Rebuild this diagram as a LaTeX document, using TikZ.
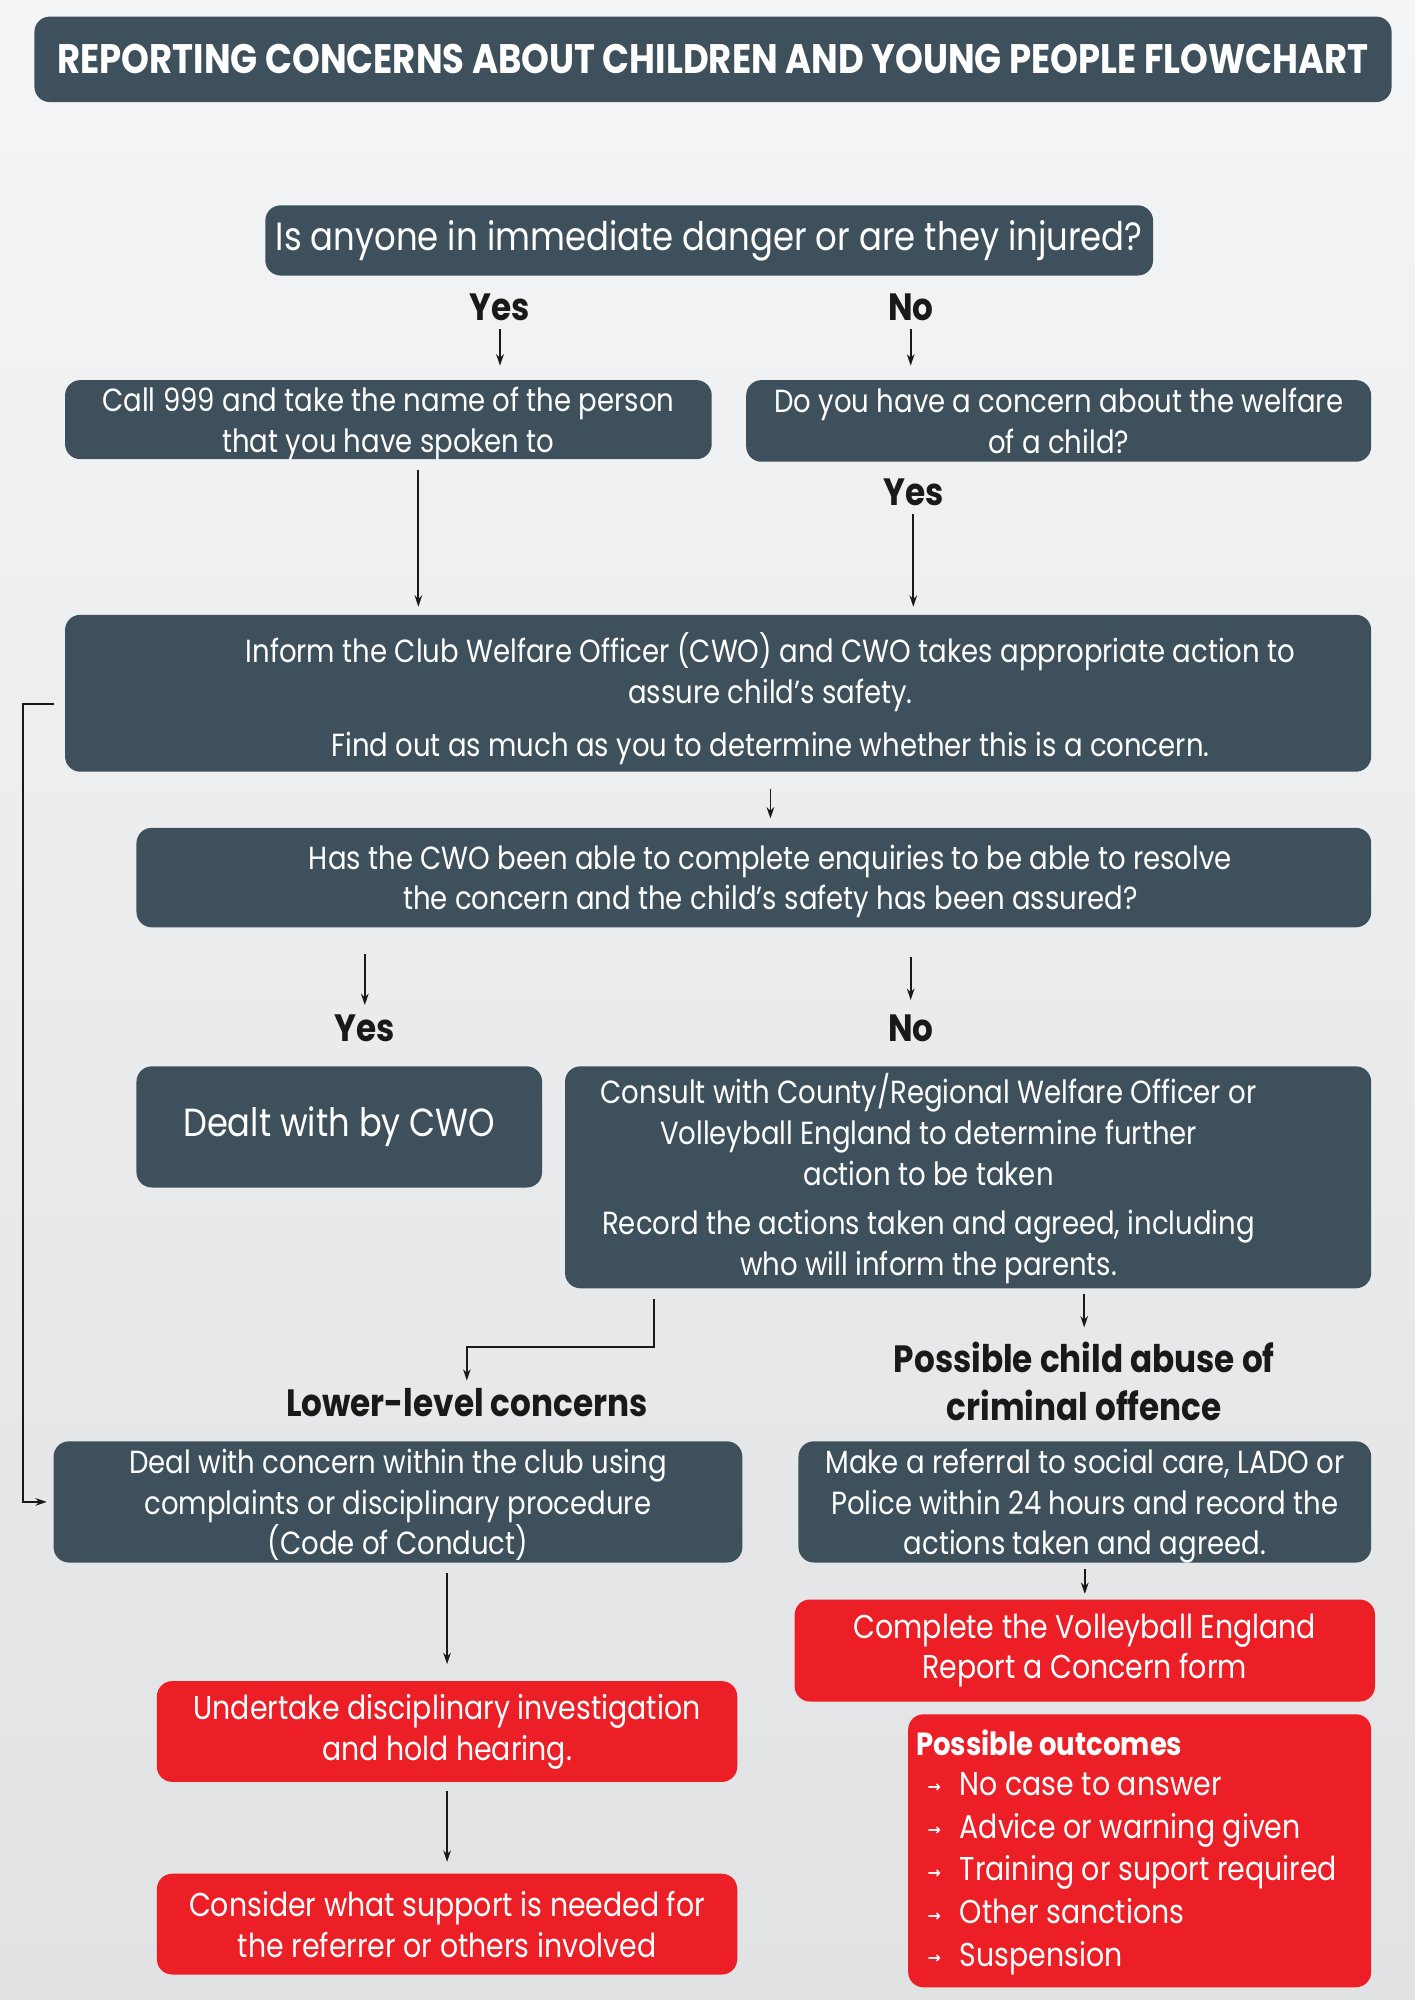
\documentclass[tikz,border=0pt]{standalone}
\usepackage{fontspec}
\setmainfont{Poppins}[FakeStretch=0.86]
\newfontfamily\symfont{DejaVu Sans}
\usetikzlibrary{arrows.meta}

\definecolor{slate}{HTML}{3D505B}
\definecolor{alert}{HTML}{EC1F27}
\definecolor{bgtop}{HTML}{F4F5F6}
\definecolor{bgbot}{HTML}{E1E2E4}
\newlength\px \setlength\px{0.6375pt}

\tikzset{
  panel/.style={fill=slate, rounded corners=12\px, text=white, align=center, inner sep=0pt},
  redpanel/.style={panel, fill=alert},
  txt/.style={font=\fontsize{16}{20.4}\selectfont, text=white, align=center, inner sep=0pt},
  redtxt/.style={font=\fontsize{16.5}{20.4}\selectfont, text=white, align=center, inner sep=0pt},
  answer/.style={font=\bfseries\fontsize{19}{24}\selectfont, text=black!90, align=center, inner sep=2pt},
  item/.style={anchor=base west, inner sep=0pt, text=white, font=\fontsize{16.5}{20}\selectfont},
  arr/.style={-{Stealth[length=5.7pt,width=3.8pt]}, line width=0.9pt, draw=black!90}
}

\begin{document}
\begin{tikzpicture}[x=0.6375pt, y=-0.6375pt]
    % background
    \shade[top color=bgtop, bottom color=bgbot] (0,0) rectangle (1109,1568);
    \useasboundingbox (0,0) rectangle (1109,1568);

    % heading and first question
    \node[panel, minimum width=1064\px, minimum height=67\px, font=\bfseries\fontsize{20.6}{24}\selectfont] (title) at (559,46.5)
        {REPORTING CONCERNS ABOUT CHILDREN AND YOUNG PEOPLE FLOWCHART};
    \node[panel, minimum width=696\px, minimum height=55\px, font=\fontsize{19.7}{24}\selectfont] (danger) at (556,188.5)
        {Is anyone in immediate danger or are they injured?};
    \node[answer] (yes1) at (392,241) {Yes};
    \node[answer] (no1) at (714,241) {No};

    \node[panel, txt, text depth=0pt, minimum width=507\px, minimum height=62\px] (call) at (304.5,329)
        {Call 999 and take the name of the person\\that you have spoken to};
    \node[panel, txt, minimum width=490\px, minimum height=64\px] (welfare) at (830,330)
        {Do you have a concern about the welfare\\of a child?};
    \node[answer] (yes2) at (716,386) {Yes};

    % inform the CWO
    \node[panel, minimum width=1024\px, minimum height=123\px] (inform) at (563,543.5) {};
    \node[txt] (informtext) at (604,548)
        {Inform the Club Welfare Officer (CWO) and CWO takes appropriate action to\\assure child’s safety.\\[6pt]Find out as much as you to determine whether this is a concern.};
    \node[panel, minimum width=968\px, minimum height=78\px] (resolve) at (591,688) {};
    \node[txt] (resolvetext) at (604,691)
        {Has the CWO been able to complete enquiries to be able to resolve\\the concern and the child’s safety has been assured?};
    \node[answer] (yes3) at (286,806) {Yes};
    \node[answer] (no3) at (714,806) {No};

    \node[panel, minimum width=318\px, minimum height=95\px, font=\fontsize{19.6}{24}\selectfont] (cwo) at (266,883.5) {Dealt with by CWO};
    \node[panel, minimum width=632\px, minimum height=174\px] (consult) at (759,923) {};
    \node[txt] (consulttext) at (728,924)
        {Consult with County/Regional Welfare Officer or\\Volleyball England to determine further\\action to be taken\\[4pt]Record the actions taken and agreed, including\\who will inform the parents.};

    % two routes
    \node[answer] (lower) at (366,1100) {Lower-level concerns};
    \node[answer] (abuse) at (850,1083) {Possible child abuse of\\criminal offence};
    \node[panel, txt, text depth=0pt, minimum width=540\px, minimum height=95\px] (deal) at (312,1177.5)
        {Deal with concern within the club using\\complaints or disciplinary procedure\\(Code of Conduct)};
    \node[panel, txt, text depth=0pt, minimum width=449\px, minimum height=95\px] (referral) at (850.5,1177.5)
        {Make a referral to social care, LADO or\\Police within 24 hours and record the\\actions taken and agreed.};

    \node[redpanel, redtxt, minimum width=455\px, minimum height=79\px] (hearing) at (350.5,1357.5)
        {Undertake disciplinary investigation\\and hold hearing.};
    \node[redpanel, redtxt, minimum width=455\px, minimum height=79\px] (support) at (350.5,1508.5)
        {Consider what support is needed for\\the referrer or others involved};
    \node[redpanel, redtxt, minimum width=455\px, minimum height=80\px] (report) at (850.5,1294)
        {Complete the Volleyball England\\Report a Concern form};

    % outcomes list
    \node[redpanel, minimum width=363\px, minimum height=214\px] (outcomes) at (893.5,1451) {};
    \node[item, font=\bfseries\fontsize{16}{20}\selectfont] (outhead) at (718,1376) {Possible outcomes};
    \foreach \t [count=\i] in {No case to answer, Advice or warning given, Training or suport required, Other sanctions, Suspension} {
        \node[item] (o\i) at (727,{1374+33.5*\i})
            {\makebox[16pt][l]{\raisebox{1.2pt}{\symfont\bfseries\fontsize{8}{8}\selectfont →}}\t};
    }

    % helper points for bends
    \coordinate (callx) at (328,0);
    \coordinate (bend) at (513,1056);
    \coordinate (loop) at (18,552);

    % connectors
    \draw[arr, shorten <=3\px, shorten >=11\px] (yes1.south) -- (yes1.south |- call.north);
    \draw[arr, shorten <=3\px, shorten >=11\px] (no1.south) -- (no1.south |- welfare.north);
    \draw[arr, shorten <=8\px, shorten >=6\px] (call.south -| callx) -- (inform.north -| callx);
    \draw[arr, shorten <=3\px, shorten >=6\px] (yes2.south) -- (yes2.south |- inform.north);
    \draw[arr, shorten <=13\px, shorten >=7\px] (inform.south -| informtext) -- (resolve.north -| informtext);
    \draw[arr, shorten <=21\px, shorten >=4\px] (resolve.south -| yes3) -- (yes3.north);
    \draw[arr, shorten <=23\px, shorten >=8\px] (resolve.south -| no3) -- (no3.north);
    \draw[arr, shorten <=8\px, shorten >=3\px] (consult.south -| bend) -- (bend) -| (lower.north);
    \draw[arr, shorten <=4\px, shorten >=8\px] (consult.south -| abuse) -- (abuse.north);
    \draw[arr, shorten <=8\px, shorten >=5\px] (inform.west |- loop) -- (loop) |- (deal.west);
    \draw[arr, shorten <=8\px, shorten >=13\px] (deal.south -| hearing) -- (hearing.north);
    \draw[arr, shorten <=7\px, shorten >=9\px] (hearing.south) -- (support.north);
    \draw[arr, shorten <=5\px, shorten >=4\px] (referral.south -| report) -- (report.north);
\end{tikzpicture}
\end{document}
